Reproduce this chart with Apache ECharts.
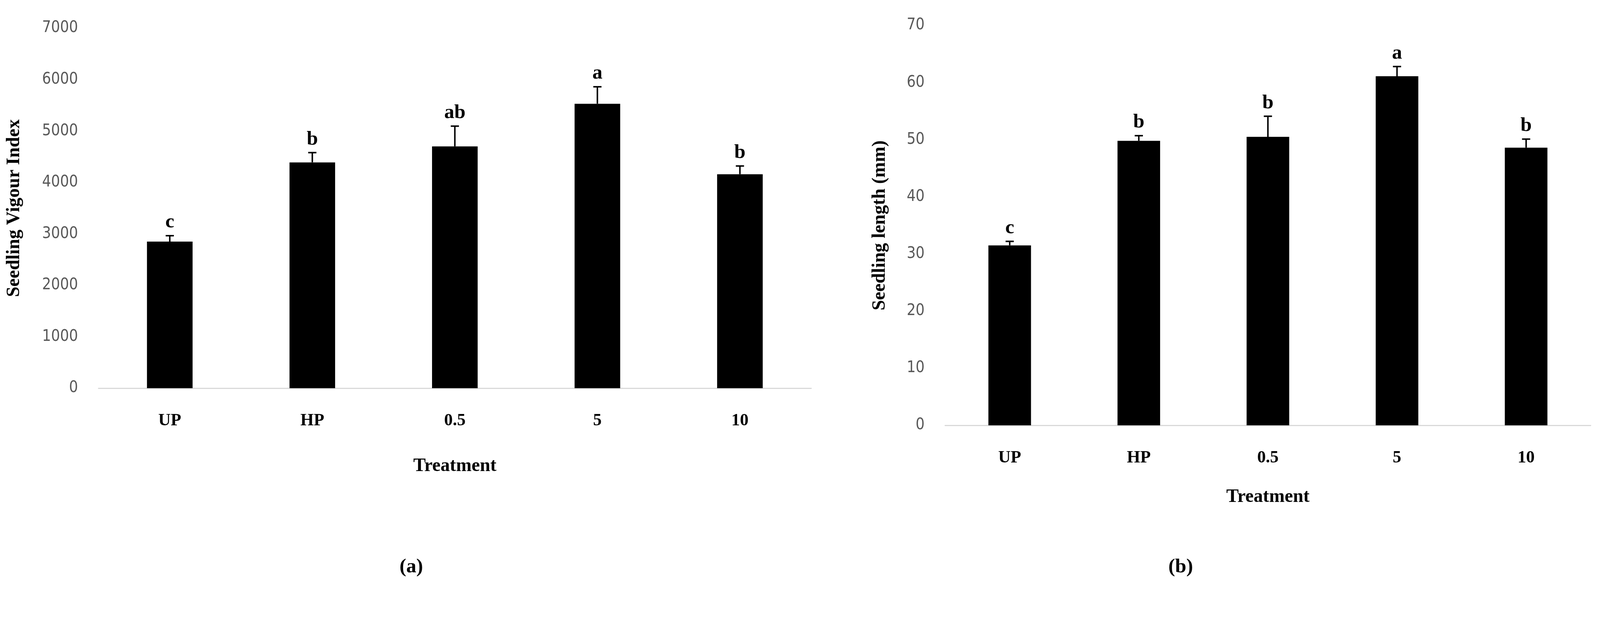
<!DOCTYPE html>
<html>
<head>
<meta charset="utf-8">
<script src="https://cdn.jsdelivr.net/npm/echarts@6/dist/echarts.min.js"></script>
<style>html,body{margin:0;background:#fff;overflow:hidden}#main{width:100vw;height:100vh}</style>
</head>
<body>
<div id="main"></div>
<script>
var categories = ["UP", "HP", "0.5", "5", "10"];
var vigour = [2850, 4390, 4700, 5530, 4160];
var vigourErr = [115, 190, 395, 330, 160];
var vigourLetters = ["c", "b", "ab", "a", "b"];
var lengthMm = [31.5, 49.8, 50.5, 61.1, 48.6];
var lengthErr = [0.7, 0.9, 3.6, 1.7, 1.5];
var lengthLetters = ["c", "b", "b", "a", "b"];

var serif = "Liberation Serif";
var tickFont = "DejaVu Sans Condensed";

// scale reference pixel sizes to the actual viewport
var sx = window.innerWidth / 4288;
var sy = window.innerHeight / 1586;
function px(v) { return v * sx; }
function py(v) { return v * sy; }

function errSeries(idx, vals, errs, letters) {
    return {
        type: "custom", xAxisIndex: idx, yAxisIndex: idx, z: 5,
        data: vals.map((v, i) => [i, v, errs[i]]),
        renderItem: (params, api) => {
            var base = api.coord([api.value(0), api.value(1)]);
            var top = api.coord([api.value(0), api.value(1) + api.value(2)]);
            var st = { stroke: "#000", lineWidth: px(4) };
            return {
                type: "group",
                children: [
                    { type: "line", shape: { x1: base[0], y1: base[1], x2: top[0], y2: top[1] }, style: st },
                    { type: "line", shape: { x1: top[0] - px(11), y1: top[1], x2: top[0] + px(11), y2: top[1] }, style: st },
                    { type: "text", x: top[0], y: top[1] - py(8), style: {
                        text: letters[params.dataIndex], fill: "#000", fontFamily: serif,
                        fontWeight: "bold", fontSize: px(54), align: "center", verticalAlign: "bottom" } }
                ]
            };
        }
    };
}

function xAx(idx, gap) {
    return {
        type: "category", gridIndex: idx, data: categories,
        axisLine: { lineStyle: { color: "#d9d9d9", width: px(3) } },
        axisTick: { show: false },
        axisLabel: { color: "#000", fontFamily: serif, fontWeight: "bold", fontSize: px(46), margin: py(62) },
        name: "Treatment", nameLocation: "middle", nameGap: py(gap),
        nameTextStyle: { color: "#000", fontFamily: serif, fontWeight: "bold", fontSize: px(50) }
    };
}

function yAx(idx, max, interval, name, gap) {
    return {
        type: "value", gridIndex: idx, min: 0, max: max, interval: interval,
        axisLine: { show: false }, axisTick: { show: false }, splitLine: { show: false },
        axisLabel: { color: "#595959", fontFamily: tickFont, fontSize: px(42), margin: px(55),
                     formatter: (v) => String(v) },
        name: name, nameLocation: "middle", nameGap: px(gap), nameRotate: 90,
        nameTextStyle: { color: "#000", fontFamily: serif, fontWeight: "bold", fontSize: px(50) }
    };
}

var chart = echarts.init(document.getElementById("main"));
chart.setOption({
    backgroundColor: "#fff",
    animation: false,
    grid: [
        { left: px(264), top: py(72), width: px(1910), height: py(921) },
        { left: px(2533), top: py(65), width: px(1730), height: py(1023) }
    ],
    xAxis: [xAx(0, 176), xAx(1, 160)],
    yAxis: [
        yAx(0, 7000, 1000, "Seedling Vigour Index", 200),
        yAx(1, 70, 10, "Seedling length (mm)", 150)
    ],
    title: [
        { text: "(a)", left: px(1097), top: py(1420), textAlign: "center",
          textStyle: { fontFamily: serif, fontWeight: "bold", fontSize: px(54), color: "#000" } },
        { text: "(b)", left: px(3159), top: py(1420), textAlign: "center",
          textStyle: { fontFamily: serif, fontWeight: "bold", fontSize: px(54), color: "#000" } }
    ],
    series: [
        { type: "bar", xAxisIndex: 0, yAxisIndex: 0, data: vigour, barWidth: "32%", itemStyle: { color: "#000" } },
        { type: "bar", xAxisIndex: 1, yAxisIndex: 1, data: lengthMm, barWidth: "33%", itemStyle: { color: "#000" } },
        errSeries(0, vigour, vigourErr, vigourLetters),
        errSeries(1, lengthMm, lengthErr, lengthLetters)
    ]
});
</script>
</body>
</html>
